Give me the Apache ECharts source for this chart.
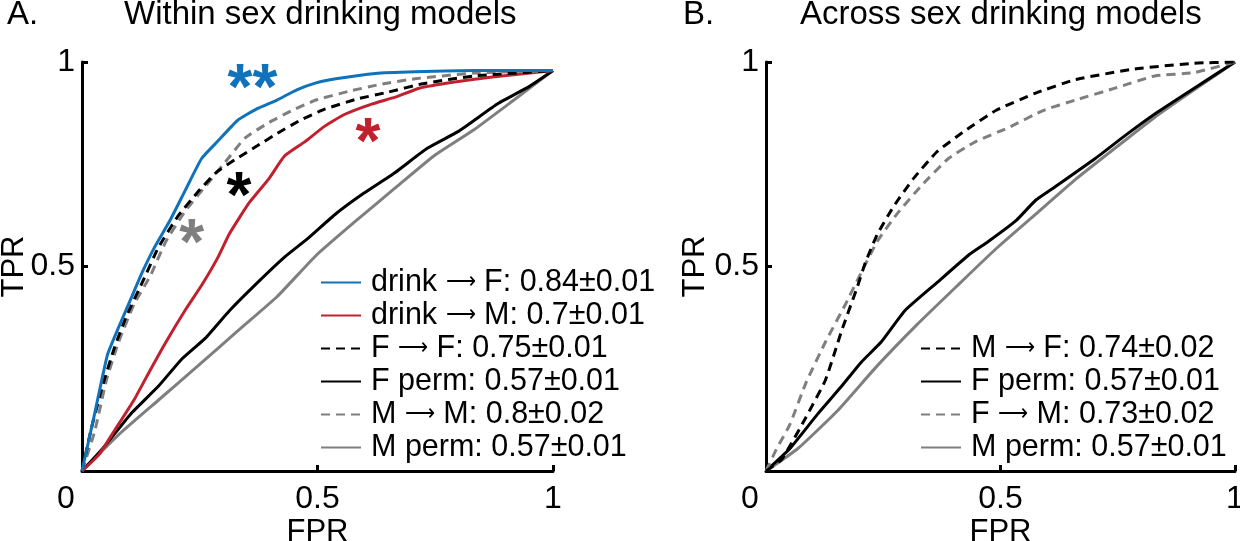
<!DOCTYPE html>
<html>
<head>
<meta charset="utf-8">
<script src="https://cdn.jsdelivr.net/npm/echarts@6/dist/echarts.min.js"></script>
<style>html,body{margin:0;padding:0;background:#fff}#c{width:1240px;height:541px}</style>
</head>
<body>
<div id="c"></div>
<script>
// ---------- Panel A: Within sex drinking models ----------
const fprA_drinkF = [0, 0.027, 0.054, 0.078, 0.103, 0.128, 0.153, 0.187, 0.220, 0.254, 0.288, 0.330, 0.372, 0.414, 0.456, 0.497, 0.539, 0.623, 0.707, 0.833, 1.0];
const tprA_drinkF = [0, 0.141, 0.284, 0.352, 0.419, 0.486, 0.545, 0.613, 0.688, 0.764, 0.806, 0.857, 0.886, 0.907, 0.932, 0.949, 0.959, 0.972, 0.976, 0.979, 0.979];

const fprA_drinkM = [0, 0.036, 0.069, 0.111, 0.145, 0.178, 0.220, 0.254, 0.288, 0.313, 0.355, 0.397, 0.430, 0.472, 0.514, 0.556, 0.615, 0.665, 0.716, 0.791, 0.876, 1.0];
const tprA_drinkM = [0, 0.040, 0.099, 0.175, 0.247, 0.315, 0.395, 0.454, 0.521, 0.580, 0.656, 0.715, 0.770, 0.804, 0.842, 0.871, 0.897, 0.914, 0.936, 0.951, 0.964, 0.979];

const fprA_FF = [0, 0.019, 0.044, 0.069, 0.094, 0.128, 0.162, 0.203, 0.245, 0.287, 0.330, 0.372, 0.414, 0.464, 0.514, 0.582, 0.649, 0.724, 0.833, 1.0];
const tprA_FF = [0, 0.100, 0.210, 0.302, 0.378, 0.461, 0.546, 0.622, 0.681, 0.732, 0.765, 0.795, 0.825, 0.858, 0.884, 0.909, 0.926, 0.947, 0.966, 0.979];

const fprA_Fperm = [0, 0.044, 0.103, 0.162, 0.212, 0.262, 0.313, 0.372, 0.430, 0.481, 0.539, 0.598, 0.665, 0.733, 0.800, 0.884, 0.951, 1.0];
const tprA_Fperm = [0, 0.055, 0.139, 0.207, 0.274, 0.325, 0.392, 0.460, 0.523, 0.570, 0.629, 0.679, 0.730, 0.789, 0.831, 0.899, 0.941, 0.979];

const fprA_MM = [0, 0.027, 0.052, 0.078, 0.111, 0.145, 0.178, 0.220, 0.262, 0.304, 0.346, 0.397, 0.447, 0.497, 0.565, 0.632, 0.707, 0.833, 1.0];
const tprA_MM = [0, 0.097, 0.223, 0.316, 0.409, 0.477, 0.561, 0.637, 0.696, 0.755, 0.814, 0.852, 0.882, 0.907, 0.928, 0.945, 0.959, 0.973, 0.979];

const fprA_Mperm = [0, 0.078, 0.162, 0.246, 0.330, 0.414, 0.497, 0.582, 0.665, 0.749, 0.833, 0.917, 1.0];
const tprA_Mperm = [0, 0.089, 0.173, 0.257, 0.342, 0.426, 0.527, 0.612, 0.692, 0.772, 0.835, 0.907, 0.979];

// ---------- Panel B: Across sex drinking models ----------
const fprB_MF = [0, 0.034, 0.085, 0.127, 0.161, 0.195, 0.212, 0.237, 0.271, 0.313, 0.364, 0.423, 0.491, 0.575, 0.660, 0.786, 0.913, 1.0];
const tprB_MF = [0, 0.029, 0.131, 0.223, 0.342, 0.451, 0.510, 0.578, 0.645, 0.713, 0.780, 0.831, 0.882, 0.924, 0.957, 0.983, 0.997, 1.0];

const fprB_Fperm = [0, 0.051, 0.110, 0.161, 0.203, 0.246, 0.296, 0.364, 0.431, 0.474, 0.533, 0.575, 0.618, 0.702, 0.769, 0.829, 0.913, 1.0];
const tprB_Fperm = [0, 0.055, 0.139, 0.207, 0.266, 0.316, 0.392, 0.460, 0.527, 0.561, 0.612, 0.662, 0.696, 0.764, 0.823, 0.873, 0.936, 1.0];

const fprB_FM = [0, 0.022, 0.051, 0.085, 0.127, 0.170, 0.203, 0.237, 0.279, 0.330, 0.389, 0.448, 0.516, 0.592, 0.660, 0.744, 0.829, 0.913, 1.0];
const tprB_FM = [0, 0.053, 0.114, 0.215, 0.316, 0.409, 0.485, 0.561, 0.628, 0.696, 0.764, 0.806, 0.839, 0.882, 0.907, 0.936, 0.966, 0.974, 1.0];

const fprB_Mperm = [0, 0.068, 0.153, 0.237, 0.322, 0.406, 0.491, 0.575, 0.660, 0.744, 0.829, 0.913, 1.0];
const tprB_Mperm = [0, 0.055, 0.148, 0.257, 0.358, 0.451, 0.544, 0.628, 0.713, 0.789, 0.865, 0.932, 1.0];

// ---------- Labels ----------
const namesA = ['drink \u27f6 F: 0.84\u00b10.01', 'drink \u27f6 M: 0.7\u00b10.01', 'F \u27f6 F: 0.75\u00b10.01', 'F perm: 0.57\u00b10.01', 'M \u27f6 M: 0.8\u00b10.02', 'M perm: 0.57\u00b10.01'];
const namesB = ['M \u27f6 F: 0.74\u00b10.02', 'F perm: 0.57\u00b10.01', 'F \u27f6 M: 0.73\u00b10.02', 'M perm: 0.57\u00b10.01'];
const titlesA = ['A.', 'Within sex drinking models'];
const titlesB = ['B.', 'Across sex drinking models'];
const axisNameX = 'FPR';
const axisNameY = 'TPR';
// significance stars: text + location in data units (panel A)
const starText = ['**', '*', '*', '*'];
const starFPR = [0.362, 0.607, 0.333, 0.233];
const starTPR = [0.966, 0.833, 0.700, 0.585];

const FONT = '"Liberation Sans", Arial, Helvetica, sans-serif';
const BLUE = '#0F72BA', RED = '#C2202F', GRAY = '#7F7F7F', BLACK = '#000000';
const DASH = [9, 6];

function pairs(xs, ys) { return xs.map((x, i) => [x, ys[i]]); }
function mk(name, xs, ys, color, dashed, gi, extra) {
  return Object.assign({
    type: 'line', name: name, xAxisIndex: gi, yAxisIndex: gi,
    data: pairs(xs, ys), symbol: 'none', showSymbol: false, smooth: 0.15,
    lineStyle: { color: color, width: 3, type: dashed ? DASH : 'solid' },
    itemStyle: { color: color }, emphasis: { disabled: true }, animation: false
  }, extra || {});
}
function starMark(i, color) {
  return {
    symbol: 'circle', symbolSize: 1, itemStyle: { color: 'rgba(0,0,0,0)' }, animation: false,
    label: { show: true, position: 'inside', formatter: starText[i], color: color, fontSize: 64, fontWeight: 'bold', fontFamily: FONT, offset: [0, 15] },
    data: [{ coord: [starFPR[i], starTPR[i]] }]
  };
}

function xAx(gi) {
  return {
    type: 'value', gridIndex: gi, min: 0, max: 1, interval: 0.5,
    name: axisNameX, nameLocation: 'middle', nameGap: 46, nameMoveOverlap: false,
    nameTextStyle: { fontSize: 31, color: '#000', fontFamily: FONT },
    axisLine: { show: true, onZero: false, lineStyle: { color: '#000', width: 3 } },
    axisTick: { show: true, inside: true, length: 6, lineStyle: { color: '#000', width: 3 } },
    splitLine: { show: false },
    axisLabel: {
      showMinLabel: true, showMaxLabel: true, margin: 12, color: '#000', fontSize: 32, fontFamily: FONT,
      formatter: v => v === 0 ? '{z|0}' : String(v),
      rich: { z: { fontSize: 32, fontFamily: FONT, color: '#000', padding: [0, 32, 0, 0] } }
    }
  };
}
function yAx(gi, gap) {
  return {
    type: 'value', gridIndex: gi, min: 0, max: 1, interval: 0.5,
    name: axisNameY, nameLocation: 'middle', nameGap: gap, nameRotate: 90, nameMoveOverlap: false,
    nameTextStyle: { fontSize: 31, color: '#000', fontFamily: FONT },
    axisLine: { show: true, onZero: false, lineStyle: { color: '#000', width: 3 } },
    axisTick: { show: true, inside: true, length: 6, lineStyle: { color: '#000', width: 3 } },
    splitLine: { show: false },
    axisLabel: {
      showMinLabel: true, showMaxLabel: true, margin: 7, color: '#000', fontSize: 32, fontFamily: FONT,
      formatter: v => v === 0 ? '' : String(v)
    }
  };
}
function legend(names, left, top) {
  return {
    data: names, orient: 'vertical', left: left, top: top, padding: 0,
    itemWidth: 40, itemHeight: 14, itemGap: 2, selectedMode: false,
    itemStyle: { opacity: 0, borderWidth: 0 },
    formatter: n => '{g|}' + n.replace('\u27f6', '{a|\u27f6}'),
    textStyle: {
      fontSize: 30.5, lineHeight: 30, color: '#000', fontFamily: FONT,
      rich: {
        g: { width: 5, lineHeight: 30 },
        a: { fontSize: 21, lineHeight: 30, color: '#000', fontFamily: FONT }
      }
    }
  };
}

const chart = echarts.init(document.getElementById('c'), null, { renderer: 'canvas' });
const option = {
  backgroundColor: '#fff',
  animation: false,
  title: [
    { text: titlesA[0], left: 7, top: -2, padding: 0, textStyle: { fontSize: 33, fontWeight: 'normal', color: '#000', fontFamily: FONT } },
    { text: titlesA[1], left: 124, top: -2, padding: 0, textStyle: { fontSize: 33, fontWeight: 'normal', color: '#000', fontFamily: FONT } },
    { text: titlesB[0], left: 683, top: -2, padding: 0, textStyle: { fontSize: 33, fontWeight: 'normal', color: '#000', fontFamily: FONT } },
    { text: titlesB[1], left: 800, top: -2, padding: 0, textStyle: { fontSize: 33, fontWeight: 'normal', color: '#000', fontFamily: FONT } }
  ],
  grid: [
    { left: 82, top: 62, width: 471, height: 409, containLabel: false, outerBoundsMode: 'none' },
    { left: 766, top: 62, width: 469, height: 409, containLabel: false, outerBoundsMode: 'none' }
  ],
  xAxis: [xAx(0), xAx(1)],
  yAxis: [yAx(0, 52), yAx(1, 55)],
  legend: [legend(namesA, 320, 267), legend(namesB, 920, 333)],
  series: [
    mk(namesA[5], fprA_Mperm, tprA_Mperm, GRAY, false, 0),
    mk(namesA[3], fprA_Fperm, tprA_Fperm, BLACK, false, 0),
    mk(namesA[1], fprA_drinkM, tprA_drinkM, RED, false, 0, { markPoint: starMark(1, RED) }),
    mk(namesA[4], fprA_MM, tprA_MM, GRAY, true, 0, { markPoint: starMark(3, GRAY) }),
    mk(namesA[2], fprA_FF, tprA_FF, BLACK, true, 0, { markPoint: starMark(2, BLACK) }),
    mk(namesA[0], fprA_drinkF, tprA_drinkF, BLUE, false, 0, { markPoint: starMark(0, BLUE) }),
    mk(namesB[3], fprB_Mperm, tprB_Mperm, GRAY, false, 1),
    mk(namesB[1], fprB_Fperm, tprB_Fperm, BLACK, false, 1),
    mk(namesB[2], fprB_FM, tprB_FM, GRAY, true, 1),
    mk(namesB[0], fprB_MF, tprB_MF, BLACK, true, 1)
  ]
};
chart.setOption(option);
</script>
</body>
</html>
